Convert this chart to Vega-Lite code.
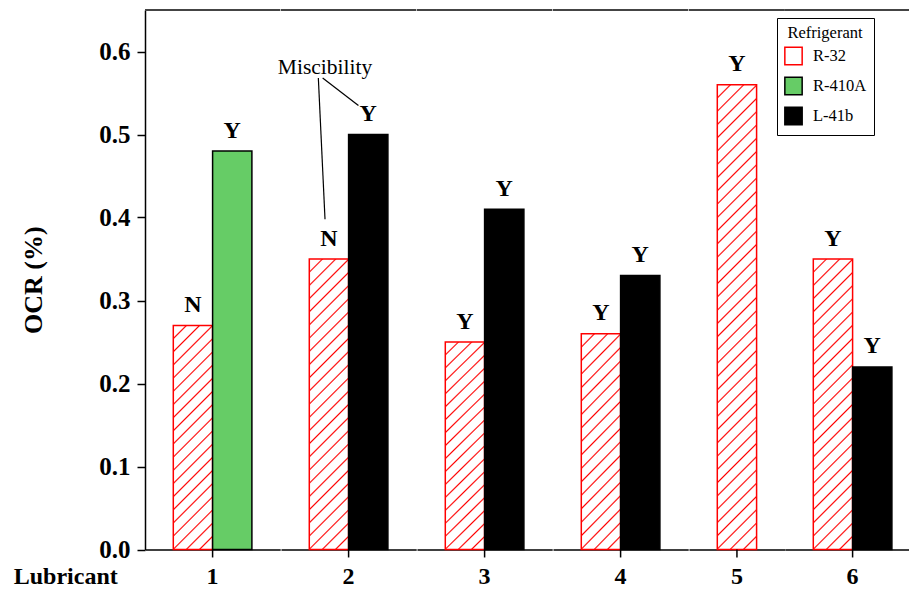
{
  "$schema": "https://vega.github.io/schema/vega-lite/v6.json",
  "padding": {"left": 13, "top": 9, "right": -9, "bottom": 0},
  "background": "white",
  "bounds": "flush",
  "data": {"values": [
    {"Lubricant": 1, "Refrigerant": "R-32", "OCR": 0.27, "Miscible": "N"},
    {"Lubricant": 1, "Refrigerant": "R-410A", "OCR": 0.48, "Miscible": "Y"},
    {"Lubricant": 2, "Refrigerant": "R-32", "OCR": 0.35, "Miscible": "N"},
    {"Lubricant": 2, "Refrigerant": "L-41b", "OCR": 0.50, "Miscible": "Y"},
    {"Lubricant": 3, "Refrigerant": "R-32", "OCR": 0.25, "Miscible": "Y"},
    {"Lubricant": 3, "Refrigerant": "L-41b", "OCR": 0.41, "Miscible": "Y"},
    {"Lubricant": 4, "Refrigerant": "R-32", "OCR": 0.26, "Miscible": "Y"},
    {"Lubricant": 4, "Refrigerant": "L-41b", "OCR": 0.33, "Miscible": "Y"},
    {"Lubricant": 5, "Refrigerant": "R-32", "OCR": 0.56, "Miscible": "Y"},
    {"Lubricant": 6, "Refrigerant": "R-32", "OCR": 0.35, "Miscible": "Y"},
    {"Lubricant": 6, "Refrigerant": "L-41b", "OCR": 0.22, "Miscible": "Y"}
  ]},
  "title": {"text": "Lubricant", "orient": "bottom", "anchor": "start", "frame": "bounds", "font": "Liberation Serif", "fontSize": 24, "fontWeight": "bold", "color": "black", "offset": 0, "dx": -7, "dy": -24},
  "facet": {"column": {"field": "Lubricant", "type": "ordinal", "title": null,
    "header": {"labelOrient": "bottom", "labelFont": "Liberation Serif", "labelFontSize": 24, "labelFontWeight": "bold", "labelColor": "black", "labelPadding": 15}}},
  "spacing": 0,
  "resolve": {"scale": {"x": "independent"}},
  "spec": {
    "width": {"step": 39.3},
    "height": 539.5,
    "layer": [
      {
        "mark": {"type": "bar", "strokeWidth": 1.5},
        "encoding": {
          "x": {"field": "Refrigerant", "type": "nominal", "sort": ["R-32", "R-410A", "L-41b"],
            "scale": {"paddingInner": 0, "paddingOuter": 0.72},
            "axis": {"labels": false, "ticks": false, "title": null, "domainColor": "black", "domainWidth": 1.5}},
          "y": {"field": "OCR", "type": "quantitative", "scale": {"domain": [0, 0.65], "nice": false},
            "axis": {"title": "OCR (%)", "values": [0, 0.1, 0.2, 0.3, 0.4, 0.5, 0.6], "format": ".1f", "grid": false,
              "tickSize": 8, "tickWidth": 1.5, "tickColor": "black", "domainColor": "black", "domainWidth": 1.5,
              "labelFont": "Liberation Serif", "labelFontSize": 25, "labelFontWeight": "bold", "labelColor": "black", "labelPadding": 7,
              "titleFont": "Liberation Serif", "titleFontSize": 26, "titleFontWeight": "bold", "titleColor": "black", "titlePadding": 52}},
          "fill": {
            "condition": [
              {"test": "datum.Refrigerant === 'R-32' && datum.Lubricant === 1", "value": {"gradient": "linear", "x1": 0, "y1": 0, "x2": 0.2, "y2": 1.1403, "stops": [
                {"offset": 0, "color": "red"}, {"offset": 0.006, "color": "white"}, {"offset": 0.044, "color": "white"},
                {"offset": 0.05, "color": "red"}, {"offset": 0.056, "color": "white"}, {"offset": 0.094, "color": "white"},
                {"offset": 0.1, "color": "red"}, {"offset": 0.106, "color": "white"}, {"offset": 0.144, "color": "white"},
                {"offset": 0.15, "color": "red"}, {"offset": 0.156, "color": "white"}, {"offset": 0.194, "color": "white"},
                {"offset": 0.2, "color": "red"}, {"offset": 0.206, "color": "white"}, {"offset": 0.244, "color": "white"},
                {"offset": 0.25, "color": "red"}, {"offset": 0.256, "color": "white"}, {"offset": 0.294, "color": "white"},
                {"offset": 0.3, "color": "red"}, {"offset": 0.306, "color": "white"}, {"offset": 0.344, "color": "white"},
                {"offset": 0.35, "color": "red"}, {"offset": 0.356, "color": "white"}, {"offset": 0.394, "color": "white"},
                {"offset": 0.4, "color": "red"}, {"offset": 0.406, "color": "white"}, {"offset": 0.444, "color": "white"},
                {"offset": 0.45, "color": "red"}, {"offset": 0.456, "color": "white"}, {"offset": 0.494, "color": "white"},
                {"offset": 0.5, "color": "red"}, {"offset": 0.506, "color": "white"}, {"offset": 0.544, "color": "white"},
                {"offset": 0.55, "color": "red"}, {"offset": 0.556, "color": "white"}, {"offset": 0.594, "color": "white"},
                {"offset": 0.6, "color": "red"}, {"offset": 0.606, "color": "white"}, {"offset": 0.644, "color": "white"},
                {"offset": 0.65, "color": "red"}, {"offset": 0.656, "color": "white"}, {"offset": 0.694, "color": "white"},
                {"offset": 0.7, "color": "red"}, {"offset": 0.706, "color": "white"}, {"offset": 0.744, "color": "white"},
                {"offset": 0.75, "color": "red"}, {"offset": 0.756, "color": "white"}, {"offset": 0.794, "color": "white"},
                {"offset": 0.8, "color": "red"}, {"offset": 0.806, "color": "white"}, {"offset": 0.844, "color": "white"},
                {"offset": 0.85, "color": "red"}, {"offset": 0.856, "color": "white"}, {"offset": 0.894, "color": "white"},
                {"offset": 0.9, "color": "red"}, {"offset": 0.906, "color": "white"}, {"offset": 0.944, "color": "white"},
                {"offset": 0.95, "color": "red"}, {"offset": 0.956, "color": "white"}, {"offset": 0.994, "color": "white"},
                {"offset": 1, "color": "red"}]}},
              {"test": "datum.Refrigerant === 'R-32' && (datum.Lubricant === 2 || datum.Lubricant === 6)", "value": {"gradient": "linear", "x1": 0, "y1": 0, "x2": 0.1508, "y2": 1.1149, "stops": [
                {"offset": 0, "color": "red"}, {"offset": 0.0048, "color": "white"}, {"offset": 0.0352, "color": "white"},
                {"offset": 0.04, "color": "red"}, {"offset": 0.0448, "color": "white"}, {"offset": 0.0752, "color": "white"},
                {"offset": 0.08, "color": "red"}, {"offset": 0.0848, "color": "white"}, {"offset": 0.1152, "color": "white"},
                {"offset": 0.12, "color": "red"}, {"offset": 0.1248, "color": "white"}, {"offset": 0.1552, "color": "white"},
                {"offset": 0.16, "color": "red"}, {"offset": 0.1648, "color": "white"}, {"offset": 0.1952, "color": "white"},
                {"offset": 0.2, "color": "red"}, {"offset": 0.2048, "color": "white"}, {"offset": 0.2352, "color": "white"},
                {"offset": 0.24, "color": "red"}, {"offset": 0.2448, "color": "white"}, {"offset": 0.2752, "color": "white"},
                {"offset": 0.28, "color": "red"}, {"offset": 0.2848, "color": "white"}, {"offset": 0.3152, "color": "white"},
                {"offset": 0.32, "color": "red"}, {"offset": 0.3248, "color": "white"}, {"offset": 0.3552, "color": "white"},
                {"offset": 0.36, "color": "red"}, {"offset": 0.3648, "color": "white"}, {"offset": 0.3952, "color": "white"},
                {"offset": 0.4, "color": "red"}, {"offset": 0.4048, "color": "white"}, {"offset": 0.4352, "color": "white"},
                {"offset": 0.44, "color": "red"}, {"offset": 0.4448, "color": "white"}, {"offset": 0.4752, "color": "white"},
                {"offset": 0.48, "color": "red"}, {"offset": 0.4848, "color": "white"}, {"offset": 0.5152, "color": "white"},
                {"offset": 0.52, "color": "red"}, {"offset": 0.5248, "color": "white"}, {"offset": 0.5552, "color": "white"},
                {"offset": 0.56, "color": "red"}, {"offset": 0.5648, "color": "white"}, {"offset": 0.5952, "color": "white"},
                {"offset": 0.6, "color": "red"}, {"offset": 0.6048, "color": "white"}, {"offset": 0.6352, "color": "white"},
                {"offset": 0.64, "color": "red"}, {"offset": 0.6448, "color": "white"}, {"offset": 0.6752, "color": "white"},
                {"offset": 0.68, "color": "red"}, {"offset": 0.6848, "color": "white"}, {"offset": 0.7152, "color": "white"},
                {"offset": 0.72, "color": "red"}, {"offset": 0.7248, "color": "white"}, {"offset": 0.7552, "color": "white"},
                {"offset": 0.76, "color": "red"}, {"offset": 0.7648, "color": "white"}, {"offset": 0.7952, "color": "white"},
                {"offset": 0.8, "color": "red"}, {"offset": 0.8048, "color": "white"}, {"offset": 0.8352, "color": "white"},
                {"offset": 0.84, "color": "red"}, {"offset": 0.8448, "color": "white"}, {"offset": 0.8752, "color": "white"},
                {"offset": 0.88, "color": "red"}, {"offset": 0.8848, "color": "white"}, {"offset": 0.9152, "color": "white"},
                {"offset": 0.92, "color": "red"}, {"offset": 0.9248, "color": "white"}, {"offset": 0.9552, "color": "white"},
                {"offset": 0.96, "color": "red"}, {"offset": 0.9648, "color": "white"}, {"offset": 0.9952, "color": "white"},
                {"offset": 1, "color": "red"}]}},
              {"test": "datum.Refrigerant === 'R-32' && (datum.Lubricant === 3 || datum.Lubricant === 4)", "value": {"gradient": "linear", "x1": 0, "y1": 0, "x2": 0.2128, "y2": 1.1462, "stops": [
                {"offset": 0, "color": "red"}, {"offset": 0.0063, "color": "white"}, {"offset": 0.0463, "color": "white"},
                {"offset": 0.0526, "color": "red"}, {"offset": 0.0589, "color": "white"}, {"offset": 0.0989, "color": "white"},
                {"offset": 0.1053, "color": "red"}, {"offset": 0.1116, "color": "white"}, {"offset": 0.1516, "color": "white"},
                {"offset": 0.1579, "color": "red"}, {"offset": 0.1642, "color": "white"}, {"offset": 0.2042, "color": "white"},
                {"offset": 0.2105, "color": "red"}, {"offset": 0.2168, "color": "white"}, {"offset": 0.2568, "color": "white"},
                {"offset": 0.2632, "color": "red"}, {"offset": 0.2695, "color": "white"}, {"offset": 0.3095, "color": "white"},
                {"offset": 0.3158, "color": "red"}, {"offset": 0.3221, "color": "white"}, {"offset": 0.3621, "color": "white"},
                {"offset": 0.3684, "color": "red"}, {"offset": 0.3747, "color": "white"}, {"offset": 0.4147, "color": "white"},
                {"offset": 0.4211, "color": "red"}, {"offset": 0.4274, "color": "white"}, {"offset": 0.4674, "color": "white"},
                {"offset": 0.4737, "color": "red"}, {"offset": 0.48, "color": "white"}, {"offset": 0.52, "color": "white"},
                {"offset": 0.5263, "color": "red"}, {"offset": 0.5326, "color": "white"}, {"offset": 0.5726, "color": "white"},
                {"offset": 0.5789, "color": "red"}, {"offset": 0.5852, "color": "white"}, {"offset": 0.6252, "color": "white"},
                {"offset": 0.6316, "color": "red"}, {"offset": 0.6379, "color": "white"}, {"offset": 0.6779, "color": "white"},
                {"offset": 0.6842, "color": "red"}, {"offset": 0.6905, "color": "white"}, {"offset": 0.7305, "color": "white"},
                {"offset": 0.7368, "color": "red"}, {"offset": 0.7431, "color": "white"}, {"offset": 0.7831, "color": "white"},
                {"offset": 0.7895, "color": "red"}, {"offset": 0.7958, "color": "white"}, {"offset": 0.8358, "color": "white"},
                {"offset": 0.8421, "color": "red"}, {"offset": 0.8484, "color": "white"}, {"offset": 0.8884, "color": "white"},
                {"offset": 0.8947, "color": "red"}, {"offset": 0.901, "color": "white"}, {"offset": 0.941, "color": "white"},
                {"offset": 0.9474, "color": "red"}, {"offset": 0.9537, "color": "white"}, {"offset": 0.9937, "color": "white"},
                {"offset": 1, "color": "red"}]}},
              {"test": "datum.Refrigerant === 'R-32' && datum.Lubricant === 5", "value": {"gradient": "linear", "x1": 0, "y1": 0, "x2": 0.0911, "y2": 1.0769, "stops": [
                {"offset": 0, "color": "red"}, {"offset": 0.0032, "color": "white"}, {"offset": 0.0232, "color": "white"},
                {"offset": 0.0263, "color": "red"}, {"offset": 0.0295, "color": "white"}, {"offset": 0.0495, "color": "white"},
                {"offset": 0.0526, "color": "red"}, {"offset": 0.0558, "color": "white"}, {"offset": 0.0758, "color": "white"},
                {"offset": 0.0789, "color": "red"}, {"offset": 0.0821, "color": "white"}, {"offset": 0.1021, "color": "white"},
                {"offset": 0.1053, "color": "red"}, {"offset": 0.1084, "color": "white"}, {"offset": 0.1284, "color": "white"},
                {"offset": 0.1316, "color": "red"}, {"offset": 0.1347, "color": "white"}, {"offset": 0.1547, "color": "white"},
                {"offset": 0.1579, "color": "red"}, {"offset": 0.1611, "color": "white"}, {"offset": 0.1811, "color": "white"},
                {"offset": 0.1842, "color": "red"}, {"offset": 0.1874, "color": "white"}, {"offset": 0.2074, "color": "white"},
                {"offset": 0.2105, "color": "red"}, {"offset": 0.2137, "color": "white"}, {"offset": 0.2337, "color": "white"},
                {"offset": 0.2368, "color": "red"}, {"offset": 0.24, "color": "white"}, {"offset": 0.26, "color": "white"},
                {"offset": 0.2632, "color": "red"}, {"offset": 0.2663, "color": "white"}, {"offset": 0.2863, "color": "white"},
                {"offset": 0.2895, "color": "red"}, {"offset": 0.2926, "color": "white"}, {"offset": 0.3126, "color": "white"},
                {"offset": 0.3158, "color": "red"}, {"offset": 0.3189, "color": "white"}, {"offset": 0.3389, "color": "white"},
                {"offset": 0.3421, "color": "red"}, {"offset": 0.3453, "color": "white"}, {"offset": 0.3653, "color": "white"},
                {"offset": 0.3684, "color": "red"}, {"offset": 0.3716, "color": "white"}, {"offset": 0.3916, "color": "white"},
                {"offset": 0.3947, "color": "red"}, {"offset": 0.3979, "color": "white"}, {"offset": 0.4179, "color": "white"},
                {"offset": 0.4211, "color": "red"}, {"offset": 0.4242, "color": "white"}, {"offset": 0.4442, "color": "white"},
                {"offset": 0.4474, "color": "red"}, {"offset": 0.4505, "color": "white"}, {"offset": 0.4705, "color": "white"},
                {"offset": 0.4737, "color": "red"}, {"offset": 0.4768, "color": "white"}, {"offset": 0.4968, "color": "white"},
                {"offset": 0.5, "color": "red"}, {"offset": 0.5032, "color": "white"}, {"offset": 0.5232, "color": "white"},
                {"offset": 0.5263, "color": "red"}, {"offset": 0.5295, "color": "white"}, {"offset": 0.5495, "color": "white"},
                {"offset": 0.5526, "color": "red"}, {"offset": 0.5558, "color": "white"}, {"offset": 0.5758, "color": "white"},
                {"offset": 0.5789, "color": "red"}, {"offset": 0.5821, "color": "white"}, {"offset": 0.6021, "color": "white"},
                {"offset": 0.6053, "color": "red"}, {"offset": 0.6084, "color": "white"}, {"offset": 0.6284, "color": "white"},
                {"offset": 0.6316, "color": "red"}, {"offset": 0.6347, "color": "white"}, {"offset": 0.6547, "color": "white"},
                {"offset": 0.6579, "color": "red"}, {"offset": 0.6611, "color": "white"}, {"offset": 0.6811, "color": "white"},
                {"offset": 0.6842, "color": "red"}, {"offset": 0.6874, "color": "white"}, {"offset": 0.7074, "color": "white"},
                {"offset": 0.7105, "color": "red"}, {"offset": 0.7137, "color": "white"}, {"offset": 0.7337, "color": "white"},
                {"offset": 0.7368, "color": "red"}, {"offset": 0.74, "color": "white"}, {"offset": 0.76, "color": "white"},
                {"offset": 0.7632, "color": "red"}, {"offset": 0.7663, "color": "white"}, {"offset": 0.7863, "color": "white"},
                {"offset": 0.7895, "color": "red"}, {"offset": 0.7926, "color": "white"}, {"offset": 0.8126, "color": "white"},
                {"offset": 0.8158, "color": "red"}, {"offset": 0.8189, "color": "white"}, {"offset": 0.8389, "color": "white"},
                {"offset": 0.8421, "color": "red"}, {"offset": 0.8453, "color": "white"}, {"offset": 0.8653, "color": "white"},
                {"offset": 0.8684, "color": "red"}, {"offset": 0.8716, "color": "white"}, {"offset": 0.8916, "color": "white"},
                {"offset": 0.8947, "color": "red"}, {"offset": 0.8979, "color": "white"}, {"offset": 0.9179, "color": "white"},
                {"offset": 0.9211, "color": "red"}, {"offset": 0.9242, "color": "white"}, {"offset": 0.9442, "color": "white"},
                {"offset": 0.9474, "color": "red"}, {"offset": 0.9505, "color": "white"}, {"offset": 0.9705, "color": "white"},
                {"offset": 0.9737, "color": "red"}, {"offset": 0.9768, "color": "white"}, {"offset": 0.9968, "color": "white"},
                {"offset": 1, "color": "red"}]}}
            ],
            "field": "Refrigerant", "type": "nominal",
            "scale": {"domain": ["R-32", "R-410A", "L-41b"], "range": ["white", "#66cc66", "black"]},
            "legend": {
              "orient": "none", "legendX": 632, "legendY": 8,
              "title": "Refrigerant", "titleAnchor": "middle",
              "titleFont": "Liberation Serif", "titleFontSize": 16.5, "titleFontWeight": "normal", "titleColor": "black", "titlePadding": 5,
              "labelFont": "Liberation Serif", "labelFontSize": 16.5, "labelColor": "black", "labelOffset": 10,
              "symbolType": "square", "symbolSize": 300, "symbolStrokeWidth": 1.5,
              "rowPadding": 5, "padding": 7, "strokeColor": "black", "fillColor": "white"
            }
          },
          "stroke": {"field": "Refrigerant", "type": "nominal",
            "scale": {"domain": ["R-32", "R-410A", "L-41b"], "range": ["red", "black", "black"]}}
        }
      },
      {
        "mark": {"type": "text", "font": "Liberation Serif", "fontSize": 24, "fontWeight": "bold", "baseline": "alphabetic", "dy": -13.5, "color": "black"},
        "encoding": {
          "x": {"field": "Refrigerant", "type": "nominal", "sort": ["R-32", "R-410A", "L-41b"]},
          "y": {"field": "OCR", "type": "quantitative"},
          "text": {"field": "Miscible"}
        }
      },
      {
        "transform": [{"filter": "datum.Refrigerant !== 'R-32'"}],
        "mark": {"type": "rule", "color": "black", "strokeWidth": 1.5},
        "encoding": {
          "x": {"field": "Refrigerant", "type": "nominal", "sort": ["R-32", "R-410A", "L-41b"], "bandPosition": 0},
          "y": {"datum": 0, "type": "quantitative"},
          "y2": {"datum": -0.0096}
        }
      },
      {
        "transform": [{"filter": "datum.Lubricant === 5"}],
        "mark": {"type": "rule", "color": "black", "strokeWidth": 1.5},
        "encoding": {
          "x": {"field": "Refrigerant", "type": "nominal", "sort": ["R-32", "R-410A", "L-41b"], "bandPosition": 0.5},
          "y": {"datum": 0, "type": "quantitative"},
          "y2": {"datum": -0.0096}
        }
      },
      {
        "transform": [{"filter": "datum.Lubricant === 2 && datum.Refrigerant === 'R-32'"}],
        "mark": {"type": "text", "font": "Liberation Serif", "fontSize": 21.5, "baseline": "alphabetic", "color": "black"},
        "encoding": {
          "x": {"field": "Refrigerant", "type": "nominal", "sort": ["R-32", "R-410A", "L-41b"], "bandPosition": 0.4},
          "y": {"datum": 0.573, "type": "quantitative"},
          "text": {"value": "Miscibility"}
        }
      },
      {
        "transform": [{"filter": "datum.Lubricant === 2 && datum.Refrigerant === 'R-32'"}],
        "mark": {"type": "rule", "color": "black", "strokeWidth": 1.2},
        "encoding": {
          "x": {"field": "Refrigerant", "type": "nominal", "sort": ["R-32", "R-410A", "L-41b"], "bandPosition": 0.23},
          "x2": {"field": "Refrigerant", "bandPosition": 0.4},
          "y": {"datum": 0.568, "type": "quantitative"},
          "y2": {"datum": 0.398}
        }
      },
      {
        "transform": [{"filter": "datum.Lubricant === 2 && datum.Refrigerant === 'R-32'"}],
        "mark": {"type": "rule", "color": "black", "strokeWidth": 1.2},
        "encoding": {
          "x": {"field": "Refrigerant", "type": "nominal", "sort": ["R-32", "R-410A", "L-41b"], "bandPosition": 0.34},
          "x2": {"field": "Refrigerant", "bandPosition": 1.25},
          "y": {"datum": 0.568, "type": "quantitative"},
          "y2": {"datum": 0.535}
        }
      },
      {
        "mark": {"type": "rule", "color": "#444444", "strokeWidth": 2},
        "encoding": {"y": {"datum": 0.65, "type": "quantitative"}}
      }
    ]
  },
  "config": {
    "view": {"stroke": null},
    "font": "Liberation Serif",
    "title": {"font": "Liberation Serif"},
    "axis": {"titleFont": "Liberation Serif", "labelFont": "Liberation Serif"},
    "header": {"labelFont": "Liberation Serif", "titleFont": "Liberation Serif"},
    "legend": {"titleFont": "Liberation Serif", "labelFont": "Liberation Serif"}
  }
}
